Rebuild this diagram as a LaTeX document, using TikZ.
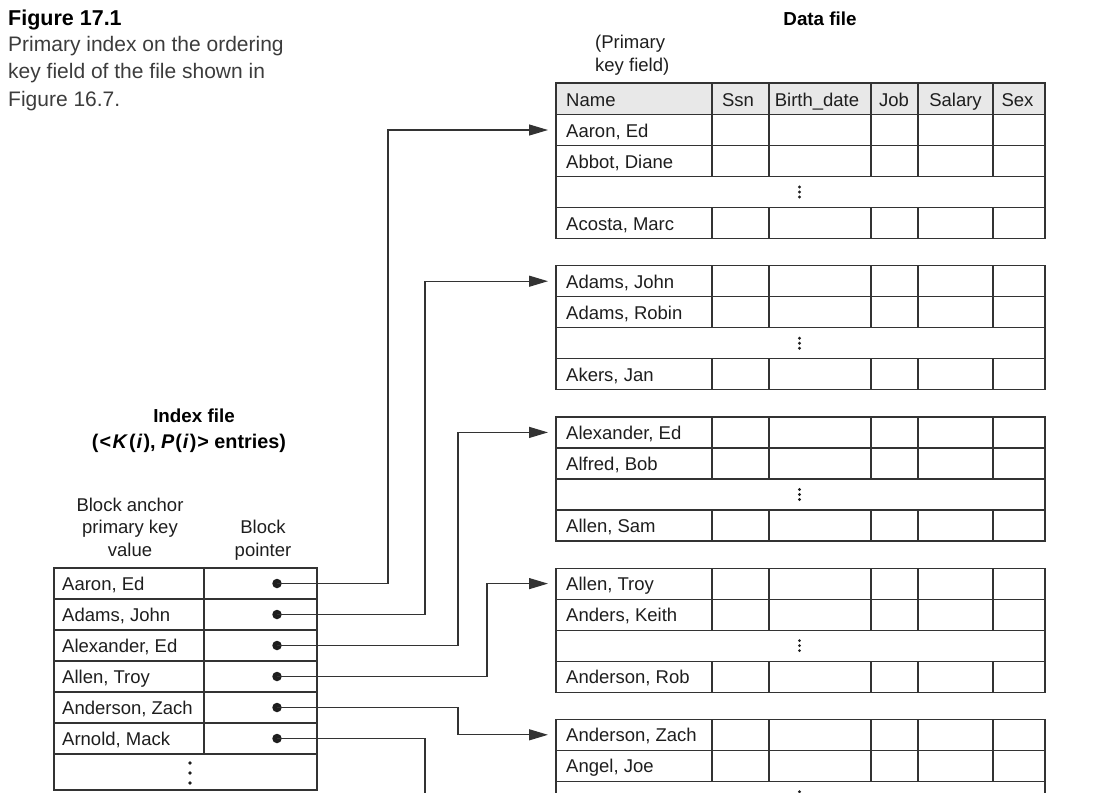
\documentclass[tikz,border=0pt]{standalone}
\usepackage{fontspec}
\setmainfont{Liberation Sans}
\usetikzlibrary{arrows.meta}
\definecolor{ln}{HTML}{333333}
\definecolor{tx}{HTML}{1E1E1E}
\definecolor{capc}{HTML}{3C3C3C}
\definecolor{hdr}{HTML}{E8E8E8}
\begin{document}
\begin{tikzpicture}[x=1pt,y=-1pt,
  grid/.style={draw=ln,line width=1.2pt},
  conn/.style={draw=ln,line width=1.2pt,-{Triangle[length=19pt,width=11pt]}},
  plain/.style={draw=ln,line width=1.2pt},
  cell/.style={inner sep=0pt,anchor=base west,text=tx,font=\fontsize{18.5}{22}\selectfont},
  ccell/.style={inner sep=0pt,anchor=base,text=tx,font=\fontsize{18.5}{22}\selectfont},
  bold/.style={inner sep=0pt,anchor=base,text=black,font=\bfseries\fontsize{18.8}{22}\selectfont},
  capline/.style={inner sep=0pt,anchor=base west,text=capc,font=\fontsize{21}{26}\selectfont},
  ptr/.style={circle,fill=tx,inner sep=0pt,minimum size=9.5pt},
  dotm/.style={fill=tx}
]
\useasboundingbox (0,0) rectangle (1112,793);
\clip (0,0) rectangle (1112,793);

% caption
\node[inner sep=0pt,anchor=base west,font=\bfseries\fontsize{21.5}{26}\selectfont] (fig) at (8,25) {Figure 17.1};
\node[capline] (cap1) at (8,51) {Primary index on the ordering};
\node[capline] (cap2) at (8,78.5) {key field of the file shown in};
\node[capline] (cap3) at (8,106) {Figure 16.7.};

% data file labels
\node[bold] (dfile) at (820,25) {Data file};
\node[cell] (pk1) at (595,48) {(Primary};
\node[cell] (pk2) at (595,71.5) {key field)};

% header
\fill[hdr] (556,83) rectangle (1045,114.5);
\draw[grid] (556,83) rectangle (1045,114.5);
\foreach \cx in {712,769,871,918,993} \draw[grid] (\cx,83) -- (\cx,114.5);
\node[cell] (hname) at (566,106.5) {Name};
\node[ccell] (hssn) at (738,106.5) {Ssn};
\node[ccell] (hbd) at (817,106.5) {Birth\_date};
\node[ccell] (hjob) at (894,106.5) {Job};
\node[ccell] (hsal) at (955.5,106.5) {Salary};
\node[ccell] (hsex) at (1017.5,106.5) {Sex};

% data blocks
\foreach \k/\a/\b/\c in {0/{Aaron, Ed}/{Abbot, Diane}/{Acosta, Marc},
                         1/{Adams, John}/{Adams, Robin}/{Akers, Jan},
                         2/{Alexander, Ed}/{Alfred, Bob}/{Allen, Sam},
                         3/{Allen, Troy}/{Anders, Keith}/{Anderson, Rob},
                         4/{Anderson, Zach}/{Angel, Joe}/{}}{
  \pgfmathsetmacro{\s}{114.5+151.2*\k}
  \draw[grid] (556,\s) rectangle (1045,{\s+124});
  \foreach \dy in {31,62,93} \draw[grid] (556,{\s+\dy}) -- (1045,{\s+\dy});
  \foreach \cx in {712,769,871,918,993}{
    \draw[grid] (\cx,\s) -- (\cx,{\s+62});
    \draw[grid] (\cx,{\s+93}) -- (\cx,{\s+124});
  }
  \foreach \dy in {-5,0,5} \fill[dotm] (799.5,{\s+77.5+\dy}) circle (1.6pt);
  \node[cell] (d\k a) at (566,{\s+15.5+7}) {\a};
  \node[cell] (d\k b) at (566,{\s+46.5+7}) {\b};
  \node[cell] (d\k c) at (566,{\s+108.5+7}) {\c};
  \coordinate (t\k) at (548,{\s+15.5});
}

% index file labels
\node[bold] (ifile) at (194,422) {Index file};
\node[bold,font=\bfseries\fontsize{19.8}{22}\selectfont] (ient) at (189,448) {(\kern1pt<\kern1.5pt\textit{K}\kern1pt(\kern1pt\textit{i}\kern1pt), \textit{P}\kern1pt(\kern1pt\textit{i}\kern1pt)\kern1pt> entries)};
\node[ccell] (ba1) at (130,511) {Block anchor};
\node[ccell] (ba2) at (130,533.5) {primary key};
\node[ccell] (ba3) at (130,556) {value};
\node[ccell] (bp1) at (263,533.5) {Block};
\node[ccell] (bp2) at (263,556) {pointer};

% index table
\draw[grid] (54,568) rectangle (317,790);
\foreach \y in {599,630,661,692,723,754} \draw[grid] (54,\y) -- (317,\y);
\draw[grid] (204,568) -- (204,754);
\foreach \i/\n in {1/{Aaron, Ed},2/{Adams, John},3/{Alexander, Ed},4/{Allen, Troy},5/{Anderson, Zach},6/{Arnold, Mack}}{
  \pgfmathsetmacro{\cy}{568+31*(\i-1)+15.5}
  \node[cell] (k\i) at (62,{\cy+7}) {\n};
  \node[ptr] (p\i) at (277,\cy) {};
}
\foreach \dy in {0,10,20} \fill[dotm] (190,{763+\dy}) circle (1.8pt);

% connectors
\coordinate (e6) at (425,820);
\draw[conn] (p1.center) -- ++(111,0) |- (t0);
\draw[conn] (p2.center) -- ++(148,0) |- (t1);
\draw[conn] (p3.center) -- ++(181,0) |- (t2);
\draw[conn] (p4.center) -- ++(210,0) |- (t3);
\draw[conn] (p5.center) -- ++(181,0) |- (t4);
\draw[plain] (p6.center) -| (e6);
\end{tikzpicture}
\end{document}
